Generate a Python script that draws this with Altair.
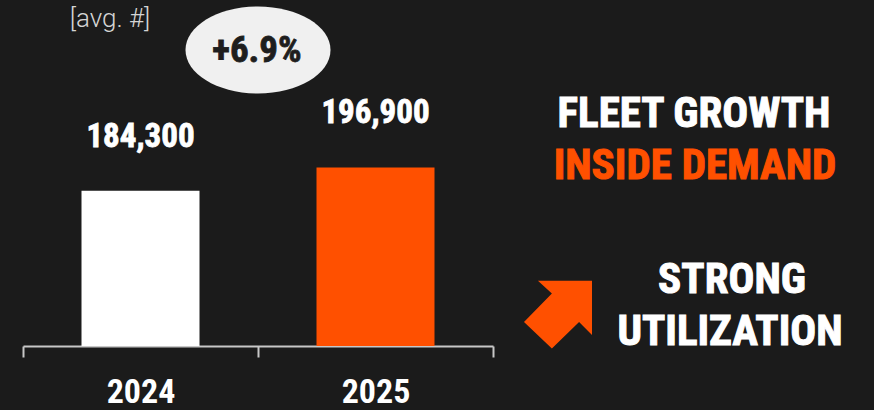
import altair as alt
import pandas as pd

# ---- data ----
years = ["2024", "2025"]
fleet = [184300, 196900]
value_labels = ["184,300", "196,900"]
bar_colors = ["#FFFFFF", "#FF5000"]
unit_label = "[avg. #]"
growth_label = "+6.9%"
headline_1 = "FLEET GROWTH"
headline_2 = "INSIDE DEMAND"
note_1 = "STRONG"
note_2 = "UTILIZATION"

BG = "#1B1B1B"
ORANGE = "#FF5000"
COND = "Roboto Condensed, Liberation Sans Narrow, DejaVu Sans Condensed, sans-serif"

df = pd.DataFrame({"year": years, "fleet": fleet, "label": value_labels, "color": bar_colors})

x_enc = alt.X("year:N", sort=years, title=None,
              scale=alt.Scale(paddingInner=0, paddingOuter=0),
              axis=alt.Axis(labelAngle=0, tickBand="extent"))
y_scale = alt.Scale(domain=[100000, 287800], zero=False, nice=False)

base = alt.Chart(df)

bars = base.mark_bar(size=118).encode(
    x=x_enc,
    y=alt.Y("fleet:Q", scale=y_scale, axis=None),
    y2=alt.datum(100000),
    color=alt.Color("color:N", scale=None),
)

vals = base.mark_text(font=COND, fontSize=33, fontWeight="bold", color="white",
                      stroke="white", strokeWidth=0.8,
                      baseline="middle", dy=-54).encode(
    x=x_enc,
    y=alt.Y("fleet:Q", scale=y_scale, axis=None),
    text="label:N",
)


def one(t):
    return alt.Chart(pd.DataFrame({"t": [t]}))


unit = one(unit_label).mark_text(font="Roboto", fontWeight=300, fontSize=26,
                                 color="#D4D4D4", baseline="middle").encode(
    x=alt.value(87), y=alt.value(19), text="t:N")

ellipse = one("e").mark_point(
    shape="M -1 0 A 1 0.6 0 1 0 1 0 A 1 0.6 0 1 0 -1 0 Z",
    filled=True, fill="#F0F0F0", opacity=1, strokeWidth=0, size=145 * 145,
).encode(x=alt.value(235), y=alt.value(50))

growth = one(growth_label).mark_text(font=COND, fontSize=37, fontWeight="bold",
                                     color="#1E1E1E", stroke="#1E1E1E", strokeWidth=0.8,
                                     baseline="middle").encode(
    x=alt.value(234), y=alt.value(51), text="t:N")

HS = 43


def head(t, color, x, y):
    return one(t).mark_text(font=COND, fontSize=HS, fontWeight="bold", color=color,
                            stroke=color, strokeWidth=1, baseline="middle").encode(
        x=alt.value(x), y=alt.value(y), text="t:N")


h1 = head(headline_1, "white", 671, 114)
h2 = head(headline_2, ORANGE, 672, 166)
n1 = head(note_1, "white", 709, 280)
n2 = head(note_2, "white", 707, 332)

arrow = one("a").mark_point(
    shape="M -0.59 -0.99 L 1 -0.99 L 1 0.6 L 0.62 0.22 L -0.18 1 L -1 0.22 L -0.18 -0.62 Z",
    filled=True, fill=ORANGE, opacity=1, strokeWidth=0, size=68 * 68,
).encode(x=alt.value(535), y=alt.value(314.5))

chart = alt.layer(bars, vals, unit, ellipse, growth, h1, h2, n1, n2, arrow).properties(
    width=470, height=346,
    background=BG,
    padding={"left": 23, "right": 381, "top": 0, "bottom": 64},
    autosize=alt.AutoSizeParams(type="none"),
).configure_view(stroke=None).configure_axis(
    grid=False,
    domainColor="#C8C8C8", domainWidth=2,
    tickColor="#C8C8C8", tickWidth=2, tickSize=11,
    labelColor="white", labelFont=COND, labelFontSize=34, labelFontWeight="bold",
    labelPadding=18,
)

chart.save("out.html", embed_options={"renderer": "svg", "actions": False})
